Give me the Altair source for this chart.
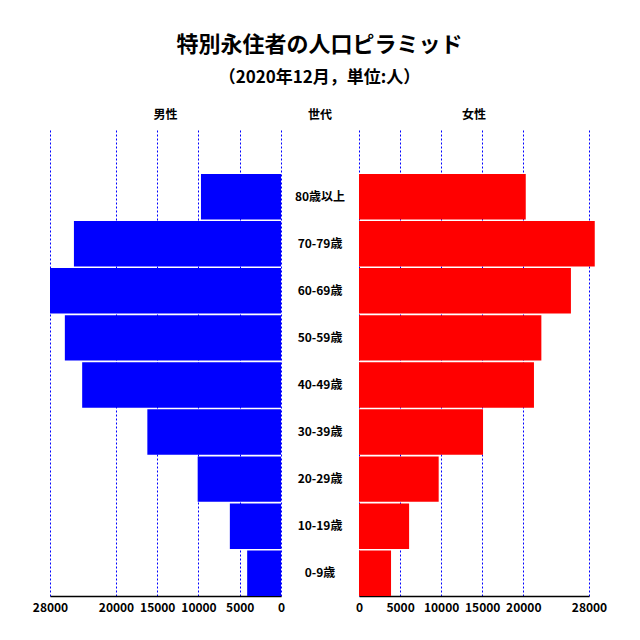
import altair as alt
import pandas as pd

ages = ["80歳以上", "70-79歳", "60-69歳", "50-59歳", "40-49歳", "30-39歳", "20-29歳", "10-19歳", "0-9歳"]
male = [9700, 25100, 28000, 26200, 24100, 16200, 10100, 6200, 4100]
female = [20300, 28700, 25800, 22200, 21300, 15100, 9700, 6100, 3900]
tick_values = [0, 5000, 10000, 15000, 20000, 28000]
x_max = 28000

df = pd.DataFrame({"age": ages, "male": male, "female": female})

FONT = "Noto Sans CJK JP"
H = 466

yscale = alt.Scale(type="band", domain=ages, paddingInner=0.035, paddingOuter=0.467, align=1)

def axis_x():
    return alt.Axis(values=tick_values, format="d", title=None, grid=True,
                    gridColor="blue", gridDash=[2, 2], gridWidth=1,
                    ticks=False, domainColor="black", domainWidth=1.5,
                    labelFont=FONT, labelFontSize=12, labelFontWeight="bold",
                    labelColor="black", labelPadding=6, labelFlush=False,
                    labelOverlap=False)

left = alt.Chart(df).mark_bar(color="blue", stroke=None).encode(
    x=alt.X("male:Q", scale=alt.Scale(domain=[0, x_max], reverse=True, nice=False), axis=axis_x()),
    y=alt.Y("age:N", scale=yscale, sort=ages, axis=None),
).properties(width=231, height=H,
             title=alt.TitleParams("男性", font=FONT, fontSize=12, fontWeight="bold", offset=8))

mid = alt.Chart(df).mark_text(font=FONT, fontSize=12, fontWeight="bold", color="black",
                              baseline="middle").encode(
    y=alt.Y("age:N", scale=yscale, sort=ages, axis=None, bandPosition=0.5),
    x=alt.value(39),
    text="age:N",
).properties(width=78, height=H,
             title=alt.TitleParams("世代", font=FONT, fontSize=12, fontWeight="bold", offset=8))

right = alt.Chart(df).mark_bar(color="red", stroke=None).encode(
    x=alt.X("female:Q", scale=alt.Scale(domain=[0, x_max], nice=False), axis=axis_x()),
    y=alt.Y("age:N", scale=yscale, sort=ages, axis=None),
).properties(width=230, height=H,
             title=alt.TitleParams("女性", font=FONT, fontSize=12, fontWeight="bold", offset=8))

chart = alt.hconcat(left, mid, right, spacing=0, bounds="flush").properties(
    title=alt.TitleParams(
        text="特別永住者の人口ピラミッド",
        subtitle="（2020年12月，単位:人）",
        font=FONT, fontSize=22, fontWeight="bold", color="black",
        subtitleFont=FONT, subtitleFontSize=17, subtitleFontWeight="bold",
        subtitleColor="black", subtitlePadding=13,
        anchor="middle", offset=22,
    ),
    padding={"left": 24, "top": 26, "right": 10, "bottom": 10},
).configure_view(stroke=None).configure_axis(domainColor="black")

chart.save("out.html", embed_options={"renderer": "svg", "actions": False})
